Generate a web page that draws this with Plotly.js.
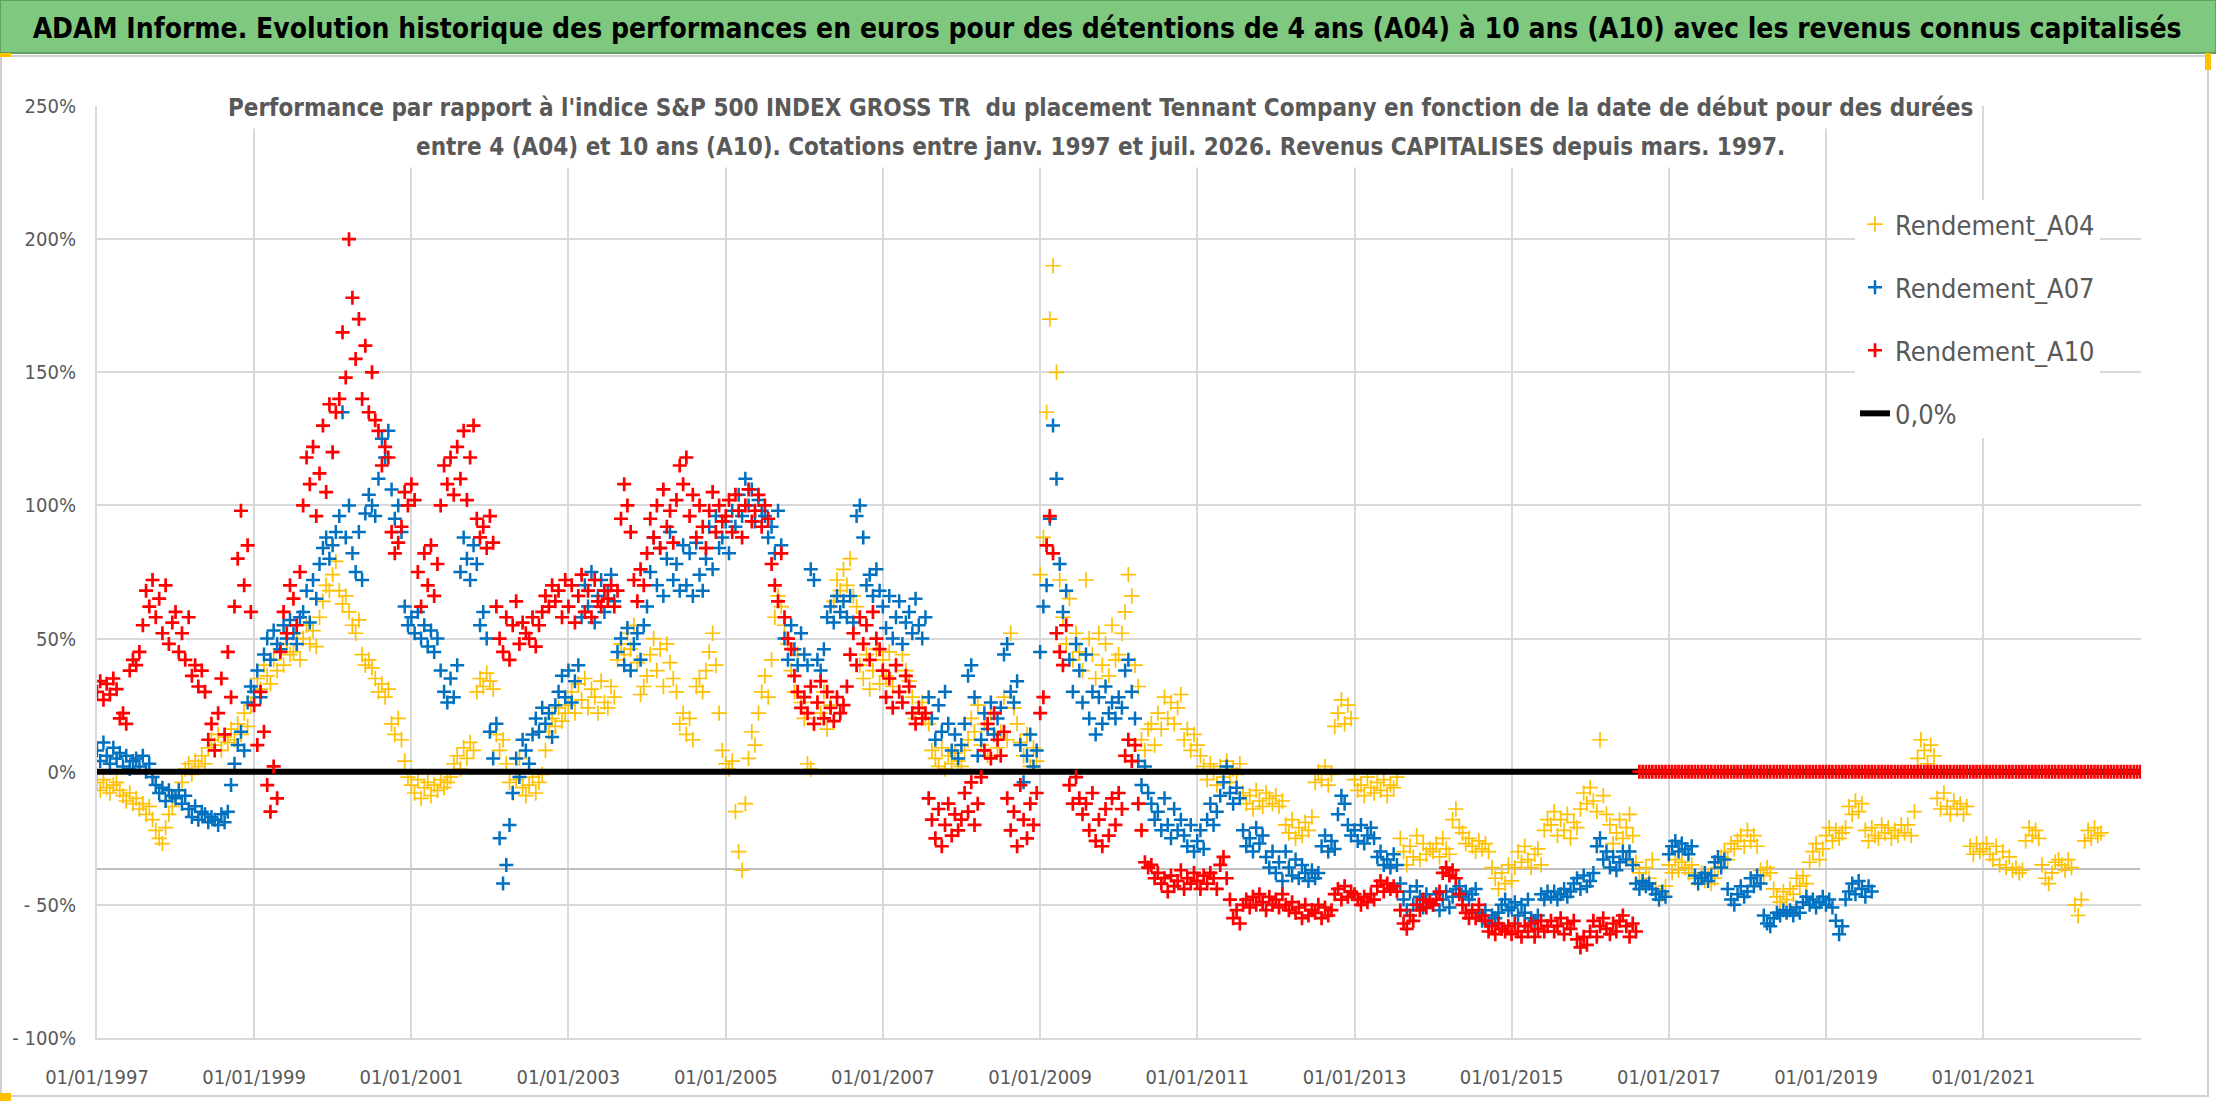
<!DOCTYPE html>
<html>
<head>
<meta charset="utf-8">
<script src="https://cdn.plot.ly/plotly-3.0.1.min.js"></script>
<style>
  html, body { margin: 0; padding: 0; background: #ffffff; }
  #chart { width: 2216px; height: 1102px; }
</style>
</head>
<body>
<div id="chart"></div>
<script>
// half-month steps starting 01/01/1997 (24 values per year, one line = half a year)
var START = Date.UTC(1997, 0, 1);

var A04 = [
  -4,-7,-3,-6,-8,-5,-4,-7,-9,-11,-8,-12,        // 1997.0
  -10,-14,-12,-16,-13,-18,-22,-25,-27,-21,-16,-13, // 1997.5
  -10,-7,-4,1,3,-1,4,2,6,3,9,12,                 // 1998.0
  10,14,8,13,11,16,12,18,14,22,17,25,            // 1998.5
  28,35,31,40,36,33,42,38,46,40,48,44,           // 1999.0
  45,52,42,50,55,48,53,47,58,64,70,68,           // 1999.5
  74,79,68,63,66,60,55,52,57,44,40,42,           // 2000.0
  39,35,30,33,28,31,18,14,20,12,4,-2,            // 2000.5
  -5,-8,-3,-10,-6,-4,-9,-5,-7,-3,-6,-4,          // 2001.0
  -2,3,6,1,9,5,11,8,30,35,32,37,                 // 2001.5
  34,31,14,8,12,3,-4,-8,-3,5,-6,-9,              // 2002.0
  -5,-2,-8,-4,-1,8,15,20,17,24,19,22,            // 2002.5
  25,30,22,33,27,35,24,31,28,22,34,26,           // 2003.0
  24,32,28,42,48,44,52,46,55,41,29,32,           // 2003.5
  36,44,50,38,46,32,48,41,35,30,18,22,           // 2004.0
  14,20,12,32,35,30,38,45,52,40,22,8,            // 2004.5
  3,1,4,-15,-30,-37,-12,5,15,10,22,30,           // 2005.0
  36,28,42,58,66,62,55,48,38,30,44,26,           // 2005.5
  20,3,1,18,26,22,30,16,25,64,72,68,             // 2006.0
  76,70,80,66,62,40,35,44,31,38,46,33,           // 2006.5
  42,36,45,32,40,30,44,38,34,28,20,24,           // 2007.0
  26,20,18,8,5,2,9,1,6,3,7,4,                    // 2007.5
  2,8,12,20,15,25,10,18,6,22,14,9,               // 2008.0
  15,28,12,52,24,18,11,6,14,2,9,4,               // 2008.5
  74,88,135,170,190,150,72,58,48,65,42,52,       // 2009.0
  45,38,72,50,44,35,52,40,48,36,55,42,           // 2009.5
  44,52,60,74,66,40,32,12,8,16,18,10,            // 2010.0
  22,16,28,20,26,18,24,29,12,16,8,14,            // 2010.5
  10,6,2,-3,3,0,-5,2,-2,4,-4,1,                  // 2011.0
  -1,3,-8,-12,-9,-14,-7,-11,-13,-8,-10,-12,      // 2011.5
  -9,-13,-11,-20,-23,-18,-25,-21,-24,-19,-22,-17, // 2012.0
  -4,0,-3,2,-5,-1,17,22,27,18,25,20,             // 2012.5
  -3,-7,-5,-9,-2,-6,-8,-4,-7,-3,-9,-5,           // 2013.0
  -6,-2,-25,-30,-35,-28,-32,-24,-33,-27,-31,-29, // 2013.5
  -30,-27,-32,-25,-29,-31,-18,-14,-21,-23,-27,-25, // 2014.0
  -28,-30,-26,-29,-27,-30,-36,-40,-44,-38,-42,-35, // 2014.5
  -41,-36,-30,-34,-28,-33,-36,-31,-29,-35,-22,-18, // 2015.0
  -20,-15,-24,-18,-22,-16,-25,-19,-21,-14,-8,-12,  // 2015.5
  -6,-11,-15,12,-9,-16,-20,-27,-23,-18,-25,-21,    // 2016.0
  -16,-24,-34,-38,-42,-36,-40,-33,-44,-48,-46,-43, // 2016.5
  -35,-38,-33,-37,-34,-36,-38,-35,-40,-42,-38,-41, // 2017.0
  -39,-42,-40,-36,-32,-30,-33,-27,-29,-26,-24,-28, // 2017.5
  -22,-26,-24,-28,-37,-39,-36,-38,-44,-47,-49,-45, // 2018.0
  -48,-44,-46,-40,-43,-39,-42,-34,-30,-27,-33,-29, // 2018.5
  -24,-21,-26,-22,-25,-23,-21,-13,-16,-11,-15,-12, // 2019.0
  -22,-26,-21,-24,-25,-20,-23,-21,-25,-22,-24,-20, // 2019.5
  -23,-20,-24,-15,5,12,8,3,10,6,-10,-14,           // 2020.0
  -8,-13,-16,-11,-14,-12,-16,-13,-28,-31,-27,-30,  // 2020.5
  -29,-27,-31,-33,-28,-35,-30,-36,-32,-37,-36,-38, // 2021.0
  -37,-26,-21,-24,-22,-25,-35,-40,-42,-38,-34,-33, // 2021.5
  -35,-37,-33,-36,-50,-54,-48,-26,-22,-25,-21,-24,-23 // 2022.0
];

var A07 = [
  8,4,11,6,3,9,5,7,2,6,1,4,                      // 1997.0
  5,2,6,0,3,-2,-5,-8,-6,-11,-7,-9,               // 1997.5
  -10,-7,-12,-9,-14,-17,-13,-18,-15,-16,-19,-17, // 1998.0
  -18,-20,-16,-19,-15,-5,3,10,15,8,26,32,        // 1998.5
  30,38,28,44,50,42,53,48,46,55,50,57,           // 1999.0
  52,48,58,60,68,56,72,65,78,84,88,80,           // 1999.5
  85,90,96,135,88,100,82,75,90,72,97,104,        // 2000.0
  100,96,110,125,118,128,106,95,100,90,62,55,    // 2000.5
  58,52,60,50,55,47,53,45,50,38,30,26,           // 2001.0
  35,28,40,75,88,80,72,85,78,55,60,50,           // 2001.5
  15,5,18,-25,-42,-35,-20,-8,5,-2,12,8,          // 2002.0
  3,14,20,15,24,18,22,13,25,30,36,28,            // 2002.5
  38,26,34,40,58,70,62,75,56,66,72,60,           // 2003.0
  68,74,64,45,50,40,54,38,48,52,42,55,           // 2003.5
  62,75,88,70,84,66,80,90,72,78,68,85,           // 2004.0
  70,82,66,86,74,68,80,92,76,96,84,88,           // 2004.5
  94,82,98,92,104,96,110,100,106,94,102,98,      // 2005.0
  96,88,92,82,98,85,50,42,55,46,40,52,           // 2005.5
  44,40,76,72,42,38,46,58,62,56,66,60,           // 2006.0
  64,58,66,56,96,100,88,70,74,66,76,68,          // 2006.5
  62,54,66,50,58,64,48,56,60,52,65,55,           // 2007.0
  50,58,28,20,12,25,15,30,18,8,14,5,             // 2007.5
  10,18,36,40,28,6,12,22,16,26,14,20,            // 2008.0
  24,44,48,30,26,34,10,-4,6,14,2,8,              // 2008.5
  45,62,70,95,130,110,78,60,68,42,30,48,         // 2009.0
  38,26,44,20,30,14,28,18,32,22,26,20,           // 2009.5
  28,24,38,42,30,20,4,-5,2,-8,-12,-18,           // 2010.0
  -15,-22,-10,-20,-25,-14,-22,-18,-24,-28,-20,-30, // 2010.5
  -26,-22,-29,-18,-12,-20,-15,-9,-4,2,-8,-12,      // 2011.0
  -6,-10,-22,-28,-25,-30,-21,-27,-24,-32,-36,-30,  // 2011.5
  -38,-34,-41,-30,-36,-39,-33,-40,-35,-38,-41,-37, // 2012.0
  -40,-38,-28,-24,-30,-26,-29,-16,-9,-12,-20,-24,  // 2012.5
  -22,-26,-20,-27,-24,-21,-25,-32,-30,-35,-33,-36, // 2013.0
  -31,-35,-42,-48,-52,-45,-50,-43,-47,-51,-46,-49, // 2013.5
  -50,-46,-52,-48,-45,-51,-47,-44,-43,-47,-45,-48, // 2014.0
  -46,-44,-53,-56,-52,-57,-54,-55,-53,-50,-48,-52, // 2014.5
  -51,-49,-54,-50,-53,-48,-55,-56,-54,-46,-48,-45, // 2015.0
  -47,-45,-48,-46,-44,-47,-45,-42,-40,-44,-39,-43, // 2015.5
  -41,-38,-28,-25,-33,-30,-36,-32,-37,-34,-30,-33, // 2016.0
  -30,-35,-42,-44,-41,-43,-42,-44,-46,-48,-45,-47, // 2016.5
  -31,-28,-26,-30,-27,-29,-31,-28,-39,-42,-40,-38, // 2017.0
  -41,-39,-34,-32,-36,-33,-44,-48,-50,-46,-43,-47, // 2017.5
  -45,-40,-43,-39,-42,-54,-57,-58,-55,-53,-54,-52, // 2018.0
  -53,-52,-54,-51,-53,-49,-47,-50,-48,-51,-49,-47, // 2018.5
  -50,-48,-51,-56,-61,-58,-48,-45,-42,-46,-41,-44,-47,-43,-45 // 2019.0
];

var A10 = [
  30,34,27,33,29,35,31,20,22,18,38,42,           // 1997.0
  40,45,55,68,62,72,58,65,52,70,48,56,           // 1997.5
  60,45,52,42,58,36,40,32,38,30,12,18,           // 1998.0
  8,22,35,14,45,28,62,80,98,70,85,60,            // 1998.5
  25,10,30,15,-5,-15,2,-10,45,60,52,70,          // 1999.0
  65,55,75,100,118,108,122,96,112,130,105,138,   // 1999.5
  120,135,140,165,148,200,178,155,170,140,160,135, // 2000.0
  150,132,128,115,122,118,90,82,86,92,105,100,   // 2000.5
  108,102,75,62,82,70,85,66,78,100,115,108,      // 2001.0
  118,104,122,110,128,102,118,130,95,88,92,84,   // 2001.5
  96,86,62,50,45,58,42,55,64,48,56,52,           // 2002.0
  50,58,47,55,60,66,62,70,64,68,58,72,           // 2002.5
  62,70,56,66,74,60,68,58,72,64,62,68,           // 2003.0
  65,70,62,68,95,108,100,90,72,64,76,70,         // 2003.5
  82,95,88,100,84,106,92,98,86,102,115,108,      // 2004.0
  118,96,104,88,100,92,84,98,105,90,100,94,      // 2004.5
  96,102,90,104,98,88,100,106,94,98,104,92,      // 2005.0
  100,95,78,70,64,82,58,50,46,36,30,24,          // 2005.5
  28,22,32,18,26,34,20,30,24,19,28,22,           // 2006.0
  25,32,44,52,40,58,48,55,42,60,50,46,           // 2006.5
  38,28,35,24,40,30,26,36,32,22,18,24,           // 2007.0
  20,22,-10,-18,-25,-14,-28,-20,-12,-24,-16,-22, // 2007.5
  -18,-8,-15,-4,-20,-12,-2,8,18,5,22,12,         // 2008.0
  6,15,-10,-22,-15,-28,-5,-18,-25,-12,-20,-8,    // 2008.5
  22,28,85,96,82,52,45,40,55,-5,-12,-2,          // 2009.0
  -10,-16,-12,-22,-8,-26,-18,-28,-14,-24,-10,-20, // 2009.5
  -8,-14,6,12,4,10,-12,-22,-34,-36,-35,-40,        // 2010.0
  -38,-42,-40,-45,-39,-43,-41,-37,-44,-40,-42,-38, // 2010.5
  -41,-44,-39,-42,-38,-40,-44,-35,-32,-40,-48,-55, // 2011.0
  -52,-57,-50,-48,-51,-47,-50,-46,-49,-52,-47,-50, // 2011.5
  -48,-51,-46,-50,-52,-49,-53,-51,-55,-50,-54,-52, // 2012.0
  -53,-50,-55,-51,-54,-52,-46,-44,-48,-43,-47,-45, // 2012.5
  -46,-48,-50,-47,-49,-46,-48,-43,-41,-45,-42,-44, // 2013.0
  -43,-45,-52,-57,-59,-54,-56,-50,-52,-48,-51,-49, // 2013.5
  -50,-48,-45,-38,-36,-39,-37,-40,-46,-50,-53,-55, // 2014.0
  -52,-55,-50,-54,-56,-60,-58,-61,-57,-59,-60,-58, // 2014.5
  -61,-57,-60,-62,-58,-60,-57,-62,-59,-56,-60,-58, // 2015.0
  -56,-60,-58,-55,-61,-57,-59,-56,-63,-66,-62,-65, // 2015.5
  -60,-56,-62,-58,-55,-59,-61,-57,-60,-56,-54,-58,-62,-57,-60, // 2016.0
  0,0,0,0,0,0,0,0,0,                             // 2016.625
  0,0,0,0,0,0,0,0,0,0,0,0,                       // 2017.0
  0,0,0,0,0,0,0,0,0,0,0,0,                       // 2017.5
  0,0,0,0,0,0,0,0,0,0,0,0,                       // 2018.0
  0,0,0,0,0,0,0,0,0,0,0,0,                       // 2018.5
  0,0,0,0,0,0,0,0,0,0,0,0,                       // 2019.0
  0,0,0,0,0,0,0,0,0,0,0,0,                       // 2019.5
  0,0,0,0,0,0,0,0,0,0,0,0,                       // 2020.0
  0,0,0,0,0,0,0,0,0,0,0,0,                       // 2020.5
  0,0,0,0,0,0,0,0,0,0,0,0,                       // 2021.0
  0,0,0,0,0,0,0,0,0,0,0,0,                       // 2021.5
  0,0,0,0,0,0,0,0,0,0,0,0,                       // 2022.0
  0,0,0,0,0,0,0,0,0,0,0,0,                       // 2022.5
  0                                              // 2023.0
];

// 0,0% reference line and the grey level line
var ZERO_X = ['1997-01-01', '2023-01-01'];
var ZERO_Y = [0, 0];
var LEVEL_Y = [-36.5, -36.5];

var xTickVals = ['1997-01-01','1999-01-01','2001-01-01','2003-01-01','2005-01-01','2007-01-01',
                 '2009-01-01','2011-01-01','2013-01-01','2015-01-01','2017-01-01','2019-01-01','2021-01-01'];
var xTickText = ['01/01/1997','01/01/1999','01/01/2001','01/01/2003','01/01/2005','01/01/2007',
                 '01/01/2009','01/01/2011','01/01/2013','01/01/2015','01/01/2017','01/01/2019','01/01/2021'];
var yTickVals = [-100, -50, 0, 50, 100, 150, 200, 250];
var yTickText = ['- 100%', '- 50%', '0%', '50%', '100%', '150%', '200%', '250%'];

var names = ['Rendement_A04', 'Rendement_A07', 'Rendement_A10', '0,0%'];

function dates(n) {
  var step = 365.25 / 24 * 86400000;
  var out = [];
  for (var i = 0; i < n; i++) out.push(new Date(START + i * step).toISOString().slice(0, 10));
  return out;
}

var W = 2216, H = 1102;
var L = 97, R = 2141, T = 106, B = 1038;
function px(x) { return (x - L) / (R - L); }
function py(y) { return (B - y) / (B - T); }

var NARROW = "'DejaVu Sans Condensed', 'Liberation Sans Narrow', sans-serif";

var traces = [
  { x: ZERO_X, y: LEVEL_Y, type: 'scatter', mode: 'lines', showlegend: false, hoverinfo: 'skip',
    line: { color: '#bfbfbf', width: 2 } },
  { x: dates(A04.length), y: A04, name: names[0], type: 'scatter', mode: 'markers',
    legendgroup: 'a04', legendrank: 1,
    marker: { symbol: 'cross-thin', size: 11, color: '#FFC000', line: { color: '#FFC000', width: 1.7 } } },
  { x: dates(A07.length), y: A07, name: names[1], type: 'scatter', mode: 'markers',
    legendgroup: 'a07', legendrank: 2,
    marker: { symbol: 'cross-thin', size: 10, color: '#0070C0', line: { color: '#0070C0', width: 2.5 } } },
  { x: ZERO_X, y: ZERO_Y, name: names[3], type: 'scatter', mode: 'lines',
    legendgroup: 'zero', legendrank: 4,
    line: { color: '#000000', width: 6 } },
  { x: dates(A10.length), y: A10, name: names[2], type: 'scatter', mode: 'markers',
    legendgroup: 'a10', legendrank: 3,
    marker: { symbol: 'cross-thin', size: 10, color: '#FF0000', line: { color: '#FF0000', width: 2.7 } } }
];

var layout = {
  width: W, height: H,
  margin: { l: L, r: W - R, t: T, b: H - B },
  paper_bgcolor: '#ffffff', plot_bgcolor: '#ffffff',
  font: { family: NARROW, color: '#595959' },
  title: {
    text: '<b>ADAM Informe. Evolution historique des performances en euros pour des détentions de 4 ans (A04) à 10 ans (A10) avec les revenus connus capitalisés</b>',
    x: 0.4996, xref: 'container', xanchor: 'center',
    y: 1 - 28 / H, yref: 'container', yanchor: 'middle',
    font: { family: NARROW, size: 28, color: '#000000' }
  },
  xaxis: {
    type: 'date', range: ['1997-01-01', '2023-01-04'],
    tickvals: xTickVals, ticktext: xTickText,
    showgrid: true, gridcolor: '#d9d9d9', gridwidth: 2,
    showline: true, linecolor: '#d9d9d9', linewidth: 2,
    zeroline: false, ticks: '', ticklabelstandoff: 20,
    tickfont: { family: NARROW, size: 20, color: '#595959' }
  },
  yaxis: {
    range: [-100, 250], tickvals: yTickVals, ticktext: yTickText,
    showgrid: true, gridcolor: '#d9d9d9', gridwidth: 2,
    showline: true, linecolor: '#d9d9d9', linewidth: 2,
    zeroline: false, ticks: '', ticklabelstandoff: 15,
    tickfont: { family: NARROW, size: 20, color: '#595959' }
  },
  legend: {
    x: px(1855), y: py(200), xanchor: 'left', yanchor: 'top',
    bgcolor: '#ffffff', borderwidth: 0,
    font: { family: NARROW, size: 27, color: '#595959' },
    tracegroupgap: 25
  },
  annotations: [
    { xref: 'paper', yref: 'paper', x: px(1100), y: py(108), xanchor: 'center', yanchor: 'middle',
      text: "<b>Performance par rapport à l'indice S&P 500 INDEX GROSS TR  du placement Tennant Company en fonction de la date de début pour des durées</b>",
      showarrow: false, bgcolor: '#ffffff', borderpad: 6,
      font: { family: NARROW, size: 24, color: '#595959' } },
    { xref: 'paper', yref: 'paper', x: px(1100), y: py(147), xanchor: 'center', yanchor: 'middle',
      text: "<b>entre 4 (A04) et 10 ans (A10). Cotations entre janv. 1997 et juil. 2026. Revenus CAPITALISES depuis mars. 1997.</b>",
      showarrow: false, bgcolor: '#ffffff', borderpad: 6,
      font: { family: NARROW, size: 24, color: '#595959' } }
  ],
  shapes: [
    // green title band
    { type: 'rect', xref: 'paper', yref: 'paper', x0: px(0), x1: px(W), y0: py(53), y1: py(0),
      fillcolor: '#7ec87f', line: { color: '#5f9f60', width: 2 }, layer: 'below' },
    // chart frame
    { type: 'rect', xref: 'paper', yref: 'paper', x0: px(1), x1: px(2208), y0: py(1096), y1: py(56),
      fillcolor: 'rgba(0,0,0,0)', line: { color: '#d0d0d0', width: 2 }, layer: 'below' },
    // selection handles
    { type: 'rect', xref: 'paper', yref: 'paper', x0: px(0), x1: px(11), y0: py(1101), y1: py(1093),
      fillcolor: '#ffc000', line: { width: 0 } },
    { type: 'rect', xref: 'paper', yref: 'paper', x0: px(2205), x1: px(2211), y0: py(70), y1: py(53),
      fillcolor: '#ffc000', line: { width: 0 } },
    { type: 'rect', xref: 'paper', yref: 'paper', x0: px(0), x1: px(11), y0: py(57), y1: py(53),
      fillcolor: '#ffc000', line: { width: 0 } }
  ]
};

Plotly.newPlot('chart', traces, layout, { displayModeBar: false, staticPlot: true });
</script>
</body>
</html>
